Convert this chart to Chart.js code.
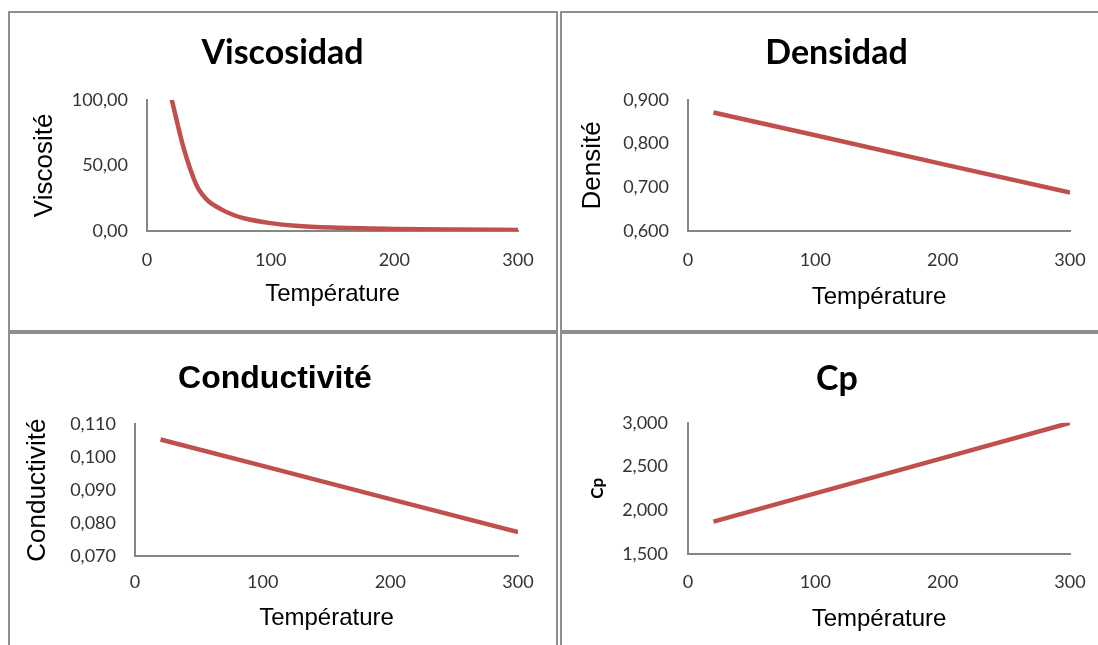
<!DOCTYPE html>
<html lang="fr">
<head>
  <meta charset="UTF-8" />
  <title>Propriétés en fonction de la température</title>
  <script src="https://cdn.jsdelivr.net/npm/chart.js"></script>
  <style>
    body {
      margin: 0;
      background: #fff;
      width: 1098px;
      height: 645px;
      overflow: hidden;
      position: relative;
    }
    .panel {
      position: absolute;
      box-sizing: border-box;
      border: 2px solid #8e8e8e;
    }
    canvas {
      position: absolute;
    }
  </style>
</head>
<body>
  <div class="panel" style="left:8px;top:11px;width:550px;height:321px;"></div>
  <div class="panel" style="left:560px;top:11px;width:560px;height:321px;"></div>
  <div class="panel" style="left:8px;top:332px;width:550px;height:340px;"></div>
  <div class="panel" style="left:560px;top:332px;width:560px;height:340px;"></div>

  <canvas id="viscChart" width="545" height="316" style="left:10px;top:13px;"></canvas>
  <canvas id="densChart" width="545" height="316" style="left:562px;top:13px;"></canvas>
  <canvas id="condChart" width="545" height="311" style="left:10px;top:334px;"></canvas>
  <canvas id="cpChart" width="545" height="311" style="left:562px;top:334px;"></canvas>

  <script>
    // valeurs
    const tempVisc = [20, 30, 40, 45, 50, 60, 70, 80, 100, 120, 150, 200, 250, 300];
    const viscosite = [100, 62, 35, 27.5, 22.5, 16.5, 12.2, 9.3, 6.0, 4.0, 2.6, 1.6, 1.1, 0.8];

    const tempLin = [20, 100, 200, 300];
    const densite = [0.871, 0.819, 0.753, 0.688];
    const conductivite = [0.1054, 0.0974, 0.0873, 0.0773];
    const cp = [1.871, 2.194, 2.597, 3.000];

    const xTicks = [0, 100, 200, 300];

    const lineColor = "#c0504d";
    const axisColor = "#868686";
    const tickColor = "#333333";

    function makeChart(id, cfg) {
      const points = cfg.x.map((t, i) => ({ x: t, y: cfg.y[i] }));
      return new Chart(document.getElementById(id), {
        type: "line",
        data: {
          datasets: [{
            data: points,
            borderColor: lineColor,
            borderWidth: 4.5,
            pointRadius: 0,
            cubicInterpolationMode: cfg.smooth ? "monotone" : "default",
            tension: 0,
            fill: false
          }]
        },
        options: {
          responsive: false,
          animation: false,
          events: [],
          layout: { padding: { left: cfg.padLeft, right: cfg.padRight, top: 0, bottom: 0 } },
          plugins: {
            legend: { display: false },
            tooltip: { enabled: false },
            title: {
              display: true,
              text: cfg.title,
              color: "#000",
              font: cfg.titleFont,
              padding: cfg.titlePad
            }
          },
          scales: {
            x: {
              type: "linear",
              min: 0,
              max: 300,
              afterBuildTicks: (scale) => { scale.ticks = xTicks.map(v => ({ value: v })); },
              grid: { display: false, drawTicks: false },
              border: { display: true, color: axisColor, width: 2 },
              ticks: {
                color: tickColor,
                font: { family: "Lato", size: 18 },
                padding: cfg.xTickPad,
                maxRotation: 0
              },
              title: {
                display: true,
                text: "Température",
                color: "#000",
                font: { family: "Liberation Sans", size: 24, lineHeight: 1.2 },
                padding: { top: 0, bottom: cfg.xTitlePad }
              },
              afterFit: (scale) => { scale.height = cfg.xHeight; }
            },
            y: {
              min: cfg.yMin,
              max: cfg.yMax,
              afterBuildTicks: (scale) => { scale.ticks = cfg.yTicks.map(v => ({ value: v })); },
              grid: { display: false, drawTicks: false },
              border: { display: true, color: axisColor, width: 2 },
              ticks: {
                color: tickColor,
                font: { family: "Lato", size: 18 },
                padding: cfg.yTickPad,
                callback: (v) => v.toFixed(cfg.decimals).replace(".", ",")
              },
              title: {
                display: true,
                text: cfg.yTitle,
                color: "#000",
                font: cfg.yTitleFont,
                padding: { top: cfg.yTitlePad, bottom: 0 }
              },
              afterFit: (scale) => { scale.width = cfg.yWidth; }
            },
            // espace vide à droite du graphique
            right: {
              type: "linear",
              position: "right",
              grid: { display: false, drawTicks: false },
              border: { display: false },
              ticks: { display: false },
              afterFit: (scale) => { scale.width = cfg.rightGap; }
            }
          }
        }
      });
    }

    makeChart("viscChart", {
      x: tempVisc, y: viscosite, smooth: true,
      title: "Viscosidad",
      titleFont: { family: "Lato", size: 34, weight: "bold", lineHeight: 1.2 },
      titlePad: { top: 20, bottom: 26 },
      yTitle: "Viscosité",
      yTitleFont: { family: "Liberation Sans", size: 26, lineHeight: 1.2 },
      yTitlePad: 19,
      yMin: 0, yMax: 100, yTicks: [0, 50, 100], decimals: 2,
      padLeft: 0, padRight: 0,
      yWidth: 137, yTickPad: 19, rightGap: 37,
      xHeight: 98, xTickPad: 18, xTitlePad: 20
    });

    makeChart("densChart", {
      x: tempLin, y: densite,
      title: "Densidad",
      titleFont: { family: "Lato", size: 34, weight: "bold", lineHeight: 1.2 },
      titlePad: { top: 20, bottom: 26 },
      yTitle: "Densité",
      yTitleFont: { family: "Liberation Sans", size: 26, lineHeight: 1.2 },
      yTitlePad: 11,
      yMin: 0.6, yMax: 0.9, yTicks: [0.6, 0.7, 0.8, 0.9], decimals: 3,
      padLeft: 4, padRight: 0,
      yWidth: 122, yTickPad: 19, rightGap: 37,
      xHeight: 98, xTickPad: 18, xTitlePad: 17
    });

    makeChart("condChart", {
      x: tempLin, y: conductivite,
      title: "Conductivité",
      titleFont: { family: "Liberation Sans", size: 32, weight: "bold", lineHeight: 1.2 },
      titlePad: { top: 26, bottom: 26 },
      yTitle: "Conductivité",
      yTitleFont: { family: "Liberation Sans", size: 26, lineHeight: 1.2 },
      yTitlePad: 12,
      yMin: 0.07, yMax: 0.11, yTicks: [0.07, 0.08, 0.09, 0.10, 0.11], decimals: 3,
      padLeft: 0, padRight: 15,
      yWidth: 125, yTickPad: 19, rightGap: 22,
      xHeight: 89, xTickPad: 15, xTitlePad: 12
    });

    makeChart("cpChart", {
      x: tempLin, y: cp,
      title: "Cp",
      titleFont: { family: "Lato", size: 34, weight: "bold", lineHeight: 1.2 },
      titlePad: { top: 25, bottom: 23 },
      yTitle: "Cp",
      yTitleFont: { family: "Lato", size: 17, weight: "bold", lineHeight: 1.2 },
      yTitlePad: 20,
      yMin: 1.5, yMax: 3.0, yTicks: [1.5, 2.0, 2.5, 3.0], decimals: 3,
      padLeft: 5, padRight: 0,
      yWidth: 121, yTickPad: 20, rightGap: 37,
      xHeight: 91, xTickPad: 17, xTitlePad: 11
    });
  </script>
</body>
</html>
